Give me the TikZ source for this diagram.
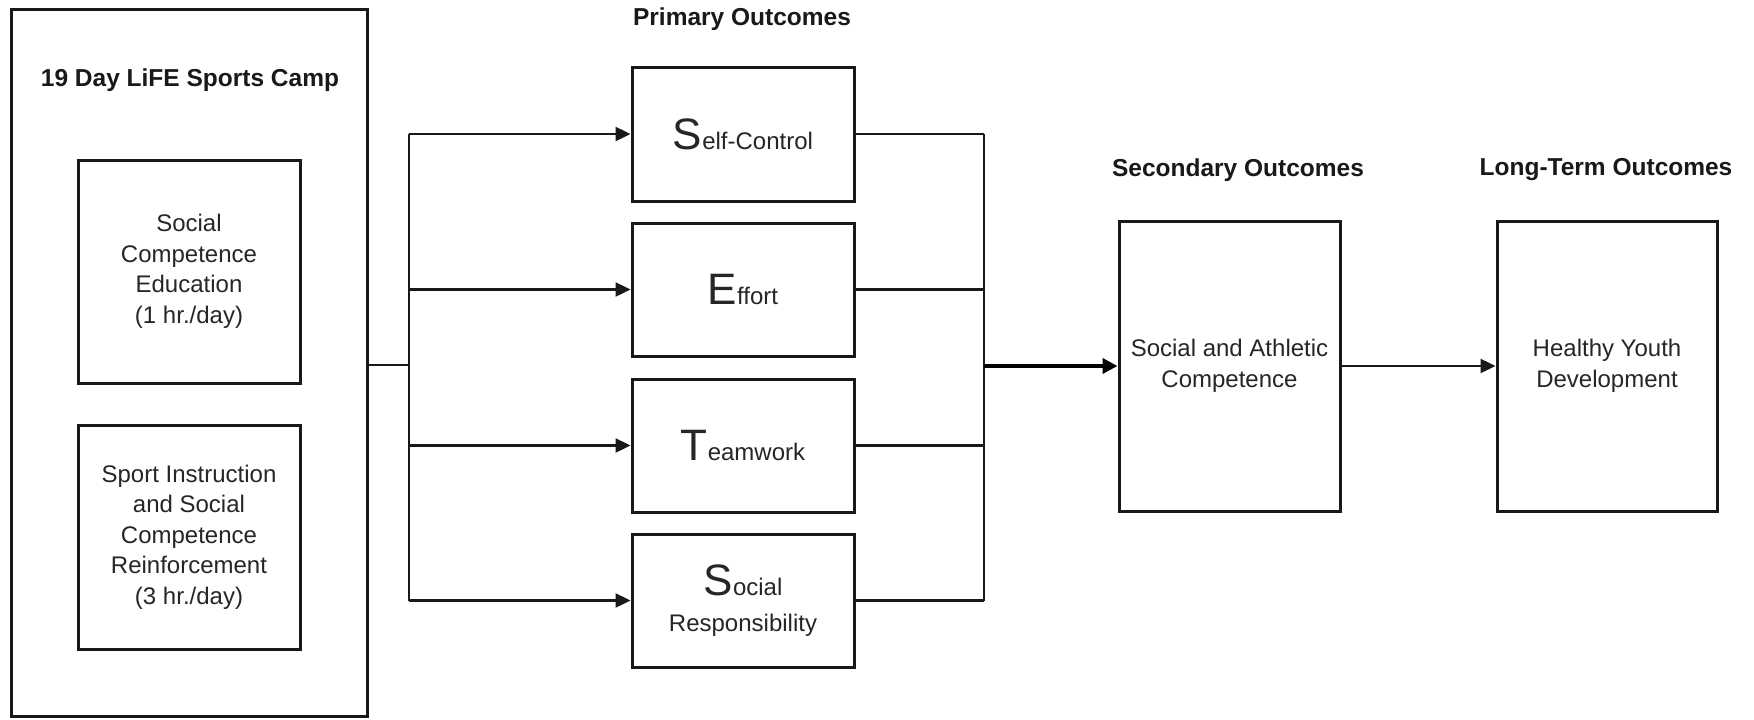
\documentclass[tikz,border=0pt]{standalone}
\usepackage{fontspec}
\setmainfont{Liberation Sans}
\usetikzlibrary{arrows.meta}
\newcommand{\bigL}[1]{{\fontsize{44}{44}\selectfont #1}}
\tikzset{
  box/.style={draw=black!90, line width=3pt, inner sep=0pt, align=center,
    font=\fontsize{24}{30.5}\selectfont, text=black!85},
  ttl/.style={inner sep=0pt, font=\fontsize{24.5}{28}\selectfont\bfseries, text=black!90},
  conn/.style={draw=black!90, line width=2.4pt},
  arr/.style={conn, -{Triangle[length=15pt,width=14pt]}},
  thickarr/.style={draw=black, line width=4pt, -{Triangle[length=15pt,width=15pt]}}
}
\begin{document}
\begin{tikzpicture}[x=1pt,y=-1pt]
\useasboundingbox[fill=white] (0,0) rectangle (1754,720);
% left camp box
\node[box, minimum width=356pt, minimum height=707pt] (camp) at (189,362.5) {};
\node[ttl] (campt) at (190,80) {19 Day LiFE Sports Camp};
\node[box, minimum width=222pt, minimum height=223pt] (sce) at (189,271.5)
  {Social\\Competence\\Education\\(1 hr./day)};
\node[box, minimum width=222pt, minimum height=224pt] (sis) at (189,537)
  {Sport Instruction\\and Social\\Competence\\Reinforcement\\(3 hr./day)};
% primary outcomes
\node[ttl] (pt) at (742,19) {Primary Outcomes};
\node[box, minimum width=222pt, minimum height=134pt] (p1) at (743,134) {\bigL{S}elf-Control};
\node[box, minimum width=222pt, minimum height=133pt] (p2) at (743,289.5) {\bigL{E}ffort};
\node[box, minimum width=222pt, minimum height=133pt] (p3) at (743,445.5) {\bigL{T}eamwork};
\node[box, minimum width=222pt, minimum height=133pt] (p4) at (743,600.5) {\bigL{S}ocial\\[6pt]Responsibility};
% secondary / long-term
\node[ttl] (st) at (1238,170) {Secondary Outcomes};
\node[box, minimum width=221pt, minimum height=290pt] (sec) at (1229.5,366) {Social and Athletic\\Competence};
\node[ttl] (lt) at (1606,170) {Long-Term Outcomes};
\node[box, minimum width=220pt, minimum height=290pt] (hyd) at (1607,366) {Healthy Youth\\Development};
% buses
\coordinate (busL) at (409,365);
\coordinate (busR) at (984,366);
\draw[conn] (camp.east |- busL) -- (busL);
\draw[conn] (p1.west -| busL) -- (p4.west -| busL);
\foreach \n in {p1,p2,p3,p4} {
  \draw[arr] (\n.west -| busL) -- (\n.west);
  \draw[conn] (\n.east) -- (\n.east -| busR);
}
\draw[conn] (p1.east -| busR) -- (p4.east -| busR);
\draw[thickarr] (busR) -- (sec.west);
\draw[arr] (sec.east) -- (hyd.west);
\end{tikzpicture}
\end{document}
